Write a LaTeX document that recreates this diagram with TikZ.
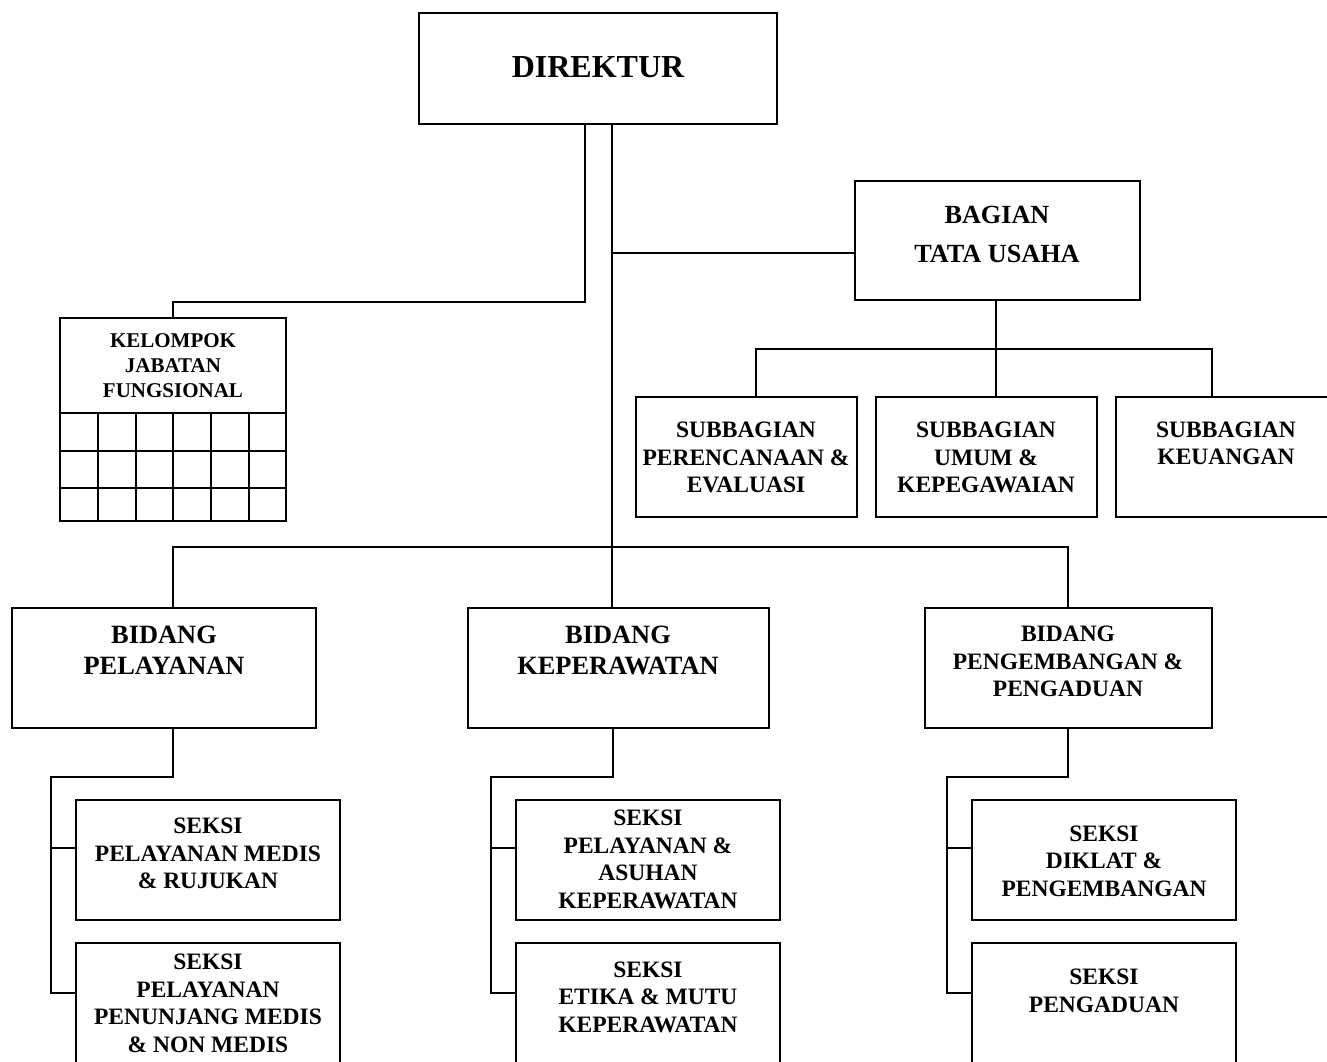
\documentclass[tikz,border=0pt]{standalone}
\usepackage{fontspec}
\setmainfont{Liberation Serif}
\begin{document}
\begin{tikzpicture}[
		x=1pt, y=-1pt,
		line width=1.6pt,
		box/.style = {
			draw,
			rectangle,
			inner sep=0pt
		},
		txt/.style = {
			align=center,
			inner sep=0pt,
			font=\bfseries\fontsize{23.5}{27.5}\selectfont
		},
		big/.style = {
			txt,
			font=\bfseries\fontsize{26.4}{31}\selectfont
		}
	]
	\useasboundingbox (0,0) rectangle (1327,1061);
	\clip (0,0) rectangle (1327,1061);
	% direktur
	\node[box, minimum width=358, minimum height=111] (dir) at (598,68.5) {};
	\node[txt, font=\bfseries\fontsize{32}{36}\selectfont] (dir-t) at (598,67) {DIREKTUR};
	% bagian tata usaha
	\node[box, minimum width=285, minimum height=119] (bag) at (997.5,240.5) {};
	\node[big, font=\bfseries\fontsize{26.2}{39}\selectfont] (bag-t) at (997,234.5) {BAGIAN\\TATA USAHA};
	\node[box, minimum width=221, minimum height=120] (sb1) at (746.5,457) {};
	\node[txt] (sb1-t) at (746,457.5) {SUBBAGIAN\\PERENCANAAN \&\\EVALUASI};
	\node[box, minimum width=221, minimum height=120] (sb2) at (986.5,457) {};
	\node[txt] (sb2-t) at (986,457.5) {SUBBAGIAN\\UMUM \&\\KEPEGAWAIAN};
	\node[box, minimum width=222, minimum height=120] (sb3) at (1227,457) {};
	\node[txt] (sb3-t) at (1226,443.5) {SUBBAGIAN\\KEUANGAN};
	% kelompok jabatan fungsional
	\node[box, minimum width=226, minimum height=203] (kjf) at (173,419.5) {};
	\node[txt, font=\bfseries\fontsize{21}{25}\selectfont] (kjf-t) at (173,366) {KELOMPOK\\JABATAN\\FUNGSIONAL};
	\foreach \y in {413,451,488}
		\draw (kjf.west |- 0,\y) -- (kjf.east |- 0,\y);
	\foreach \x in {98,136,173,211,249}
		\draw (\x,413) -- (\x,521);
	% bidang
	\node[box, minimum width=304, minimum height=120] (bp) at (164,668) {};
	\node[big] (bp-t) at (164,650.5) {BIDANG\\PELAYANAN};
	\node[box, minimum width=301, minimum height=120] (bk) at (618.5,668) {};
	\node[big] (bk-t) at (618,650.5) {BIDANG\\KEPERAWATAN};
	\node[box, minimum width=287, minimum height=120] (bpp) at (1068.5,668) {};
	\node[txt] (bpp-t) at (1068,661.5) {BIDANG\\PENGEMBANGAN \&\\PENGADUAN};
	% seksi
	\node[box, minimum width=264, minimum height=120] (s1) at (208,860) {};
	\node[txt] (s1-t) at (208,853.5) {SEKSI\\PELAYANAN MEDIS\\\& RUJUKAN};
	\node[box, minimum width=264, minimum height=120] (s2) at (208,1003) {};
	\node[txt] (s2-t) at (208,1003.5) {SEKSI\\PELAYANAN\\PENUNJANG MEDIS\\\& NON MEDIS};
	\node[box, minimum width=264, minimum height=120] (s3) at (648,860) {};
	\node[txt] (s3-t) at (648,859.5) {SEKSI\\PELAYANAN \&\\ASUHAN\\KEPERAWATAN};
	\node[box, minimum width=264, minimum height=120] (s4) at (648,1003) {};
	\node[txt] (s4-t) at (648,997) {SEKSI\\ETIKA \& MUTU\\KEPERAWATAN};
	\node[box, minimum width=264, minimum height=120] (s5) at (1104,860) {};
	\node[txt] (s5-t) at (1104,861) {SEKSI\\DIKLAT \&\\PENGEMBANGAN};
	\node[box, minimum width=264, minimum height=120] (s6) at (1104,1003) {};
	\node[txt] (s6-t) at (1104,991) {SEKSI\\PENGADUAN};
	% garis
	\coordinate (trunk) at (612,547);
	\coordinate (ju) at (612,253);
	\coordinate (tu) at (996,349);
	\draw ([xshift=-13]dir.south) -- ++(0,177) -| (kjf.north);
	\draw ([xshift=14]dir.south) -- (trunk);
	\draw (ju) -- (ju -| bag.west);
	\draw ([xshift=-1.5]bag.south) -- (tu) -- (tu |- sb2.north);
	\draw ([xshift=9.5]sb1.north) |- (tu) -| ([xshift=-15]sb3.north);
	\draw ([xshift=9]bp.north) |- (trunk) -| ([xshift=-0.5]bpp.north);
	\draw (trunk) -- (trunk |- bk.north);
	\draw ([xshift=9]bp.south) -- ++(0,48) -| ([xshift=-24,yshift=10]s2.west) -- ([yshift=10]s2.west);
	\draw ([xshift=-24,yshift=12]s1.west) -- ([yshift=12]s1.west);
	\draw ([xshift=-5.5]bk.south) -- ++(0,48) -| ([xshift=-24,yshift=10]s4.west) -- ([yshift=10]s4.west);
	\draw ([xshift=-24,yshift=12]s3.west) -- ([yshift=12]s3.west);
	\draw ([xshift=-0.5]bpp.south) -- ++(0,48) -| ([xshift=-24,yshift=10]s6.west) -- ([yshift=10]s6.west);
	\draw ([xshift=-24,yshift=12]s5.west) -- ([yshift=12]s5.west);
\end{tikzpicture}
\end{document}
